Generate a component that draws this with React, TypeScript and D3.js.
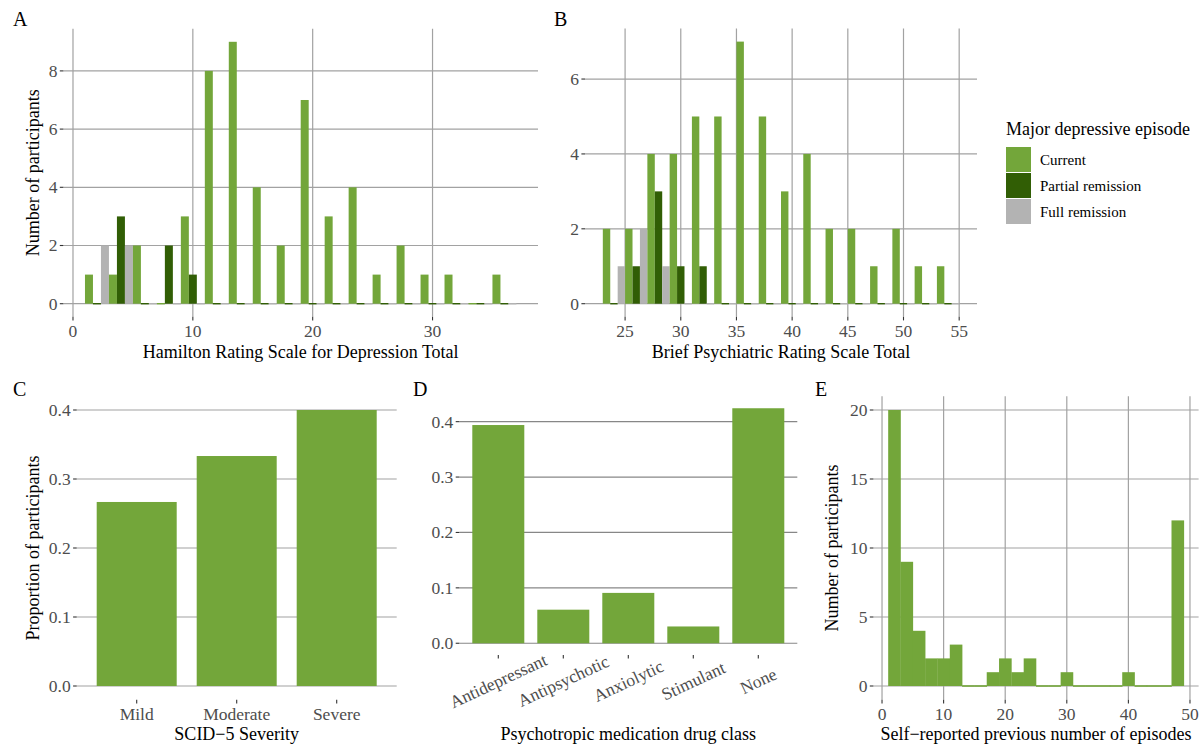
import React from "react";
import * as d3 from "d3";

// ---------- DATA ----------
const groups = ["Current", "Partial remission", "Full remission"];
const groupColors = ["#73a63a", "#315e05", "#b3b3b3"];

// Panel A: Hamilton Rating Scale for Depression Total (bin centers, width 2)
const hamCenters = [2, 4, 6, 8, 10, 12, 14, 16, 18, 20, 22, 24, 26, 28, 30, 32, 34, 36];
const hamCurrent = [1, 1, 2, 0, 3, 8, 9, 4, 2, 7, 3, 4, 1, 2, 1, 1, 0, 1];
const hamPartial = [0, 3, 0, 2, 1, 0, 0, 0, 0, 0, 0, 0, 0, 0, 0, 0, 0, 0];
const hamFull = [2, 2, 0, 0, 0, 0, 0, 0, 0, 0, 0, 0, 0, 0, 0, 0, 0, 0];
const hamXTicks = [0, 10, 20, 30];
const hamYTicks = [0, 2, 4, 6, 8];

// Panel B: Brief Psychiatric Rating Scale Total
const bprsCenters = [24, 26, 28, 30, 32, 34, 36, 38, 40, 42, 44, 46, 48, 50, 52, 54];
const bprsCurrent = [2, 2, 4, 4, 5, 5, 7, 5, 3, 4, 2, 2, 1, 2, 1, 1];
const bprsPartial = [0, 1, 3, 1, 1, 0, 0, 0, 0, 0, 0, 0, 0, 0, 0, 0];
const bprsFull = [1, 2, 1, 0, 0, 0, 0, 0, 0, 0, 0, 0, 0, 0, 0, 0];
const bprsXTicks = [25, 30, 35, 40, 45, 50, 55];
const bprsYTicks = [0, 2, 4, 6];

// Panel C: SCID-5 Severity
const severity = ["Mild", "Moderate", "Severe"];
const severityProp = [0.2667, 0.3333, 0.4];
const propTicks = [0, 0.1, 0.2, 0.3, 0.4];

// Panel D: Psychotropic medication drug class
const drugClass = ["Antidepressant", "Antipsychotic", "Anxiolytic", "Stimulant", "None"];
const drugProp = [0.3939, 0.0606, 0.0909, 0.0303, 0.4242];

// Panel E: Self-reported previous number of episodes
const epiCenters = [2, 4, 6, 8, 10, 12, 14, 16, 18, 20, 22, 24, 26, 28, 30, 32, 34, 36, 38, 40, 42, 44, 46, 48];
const epiCount = [20, 9, 4, 2, 2, 3, 0, 0, 1, 2, 1, 2, 0, 0, 1, 0, 0, 0, 0, 1, 0, 0, 0, 12];
const epiXTicks = [0, 10, 20, 30, 40, 50];
const epiYTicks = [0, 5, 10, 15, 20];

// ---------- STYLE ----------
const FONT = "'Liberation Serif', 'Times New Roman', serif";
const GRID = "#a2a2a2";
const TICK = "#333333";
const TICKTXT = "#4d4d4d";
const TICKSIZE = 17.5;
const TITLESIZE = 18;

type Frame = { x0: number; x1: number; y0: number; y1: number };

function YAxis({ f, y, ticks, fmt, gridColor = GRID }: any) {
  return (
    <g>
      {ticks.map((t: number) => (
        <g key={"y" + t}>
          <line x1={f.x0} x2={f.x1} y1={y(t)} y2={y(t)} stroke={gridColor} strokeWidth={1.2} />
          <line x1={f.x0 - 3.6} x2={f.x0} y1={y(t)} y2={y(t)} stroke={TICK} strokeWidth={1.1} />
          <text x={f.x0 - 6} y={y(t)} dy="0.34em" textAnchor="end" fontSize={TICKSIZE} fill={TICKTXT} fontFamily={FONT}>
            {fmt ? fmt(t) : t}
          </text>
        </g>
      ))}
    </g>
  );
}

function XGrid({ f, x, ticks }: any) {
  return (
    <g>
      {ticks.map((t: number) => (
        <line key={"xg" + t} x1={x(t)} x2={x(t)} y1={f.y0} y2={f.y1} stroke={GRID} strokeWidth={1.2} />
      ))}
    </g>
  );
}

function XTicks({ f, x, ticks, labels, labelY }: any) {
  return (
    <g>
      {ticks.map((t: number, i: number) => (
        <g key={"xt" + i}>
          <line x1={x(t)} x2={x(t)} y1={f.y1} y2={f.y1 + 3.6} stroke={TICK} strokeWidth={1.1} />
          {labels ? (
            <text x={x(t)} y={labelY} textAnchor="middle" fontSize={TICKSIZE} fill={TICKTXT} fontFamily={FONT}>
              {labels[i]}
            </text>
          ) : null}
        </g>
      ))}
    </g>
  );
}

function DodgeBars({ x, y, centers, series, binW }: any) {
  const sub = binW / series.length;
  const out: any[] = [];
  centers.forEach((c: number, i: number) => {
    series.forEach((vals: number[], g: number) => {
      const left = x(c - binW / 2 + g * sub);
      const right = x(c - binW / 2 + (g + 1) * sub);
      const v = vals[i];
      const top = v > 0 ? y(v) : y(0) - 0.7;
      const bot = v > 0 ? y(0) : y(0) + 0.7;
      out.push(<rect key={i + "-" + g} x={left} width={right - left} y={top} height={bot - top} fill={groupColors[g]} />);
    });
  });
  return <g>{out}</g>;
}

function Tag({ x, y, label }: any) {
  return (
    <text x={x} y={y} fontSize={20} fontFamily={FONT} fill="#000">
      {label}
    </text>
  );
}

function Title({ x, y, label, rotate }: any) {
  return (
    <text
      x={x}
      y={y}
      textAnchor="middle"
      fontSize={TITLESIZE}
      fontFamily={FONT}
      fill="#000"
      transform={rotate ? `rotate(-90 ${x} ${y})` : undefined}
    >
      {label}
    </text>
  );
}

export default function App() {
  // Panel A
  const fA: Frame = { x0: 63.4, x1: 538, y0: 28.7, y1: 316.8 };
  const xA = d3.scaleLinear().domain([-0.8, 38.8]).range([fA.x0, fA.x1]);
  const yA = d3.scaleLinear().domain([-0.45, 9.45]).range([fA.y1, fA.y0]);

  // Panel B
  const fB: Frame = { x0: 585, x1: 977, y0: 28.5, y1: 316.8 };
  const xB = d3.scaleLinear().domain([21.4, 56.6]).range([fB.x0, fB.x1]);
  const yB = d3.scaleLinear().domain([-0.35, 7.35]).range([fB.y1, fB.y0]);

  // Panel C
  const fC: Frame = { x0: 76.7, x1: 396.7, y0: 396.2, y1: 699.8 };
  const xC = d3.scaleLinear().domain([0.4, severity.length + 0.6]).range([fC.x0, fC.x1]);
  const yC = d3.scaleLinear().domain([-0.02, 0.42]).range([fC.y1, fC.y0]);

  // Panel D
  const fD: Frame = { x0: 459.3, x1: 797.3, y0: 396.5, y1: 655 };
  const xD = d3.scaleLinear().domain([0.4, drugClass.length + 0.6]).range([fD.x0, fD.x1]);
  const dMax = d3.max(drugProp) as number;
  const yD = d3.scaleLinear().domain([-0.05 * dMax, dMax * 1.05]).range([fD.y1, fD.y0]);

  // Panel E
  const fE: Frame = { x0: 873.4, x1: 1198.6, y0: 396.2, y1: 699.8 };
  const xE = d3.scaleLinear().domain([-1.4, 51.4]).range([fE.x0, fE.x1]);
  const yE = d3.scaleLinear().domain([-1, 21]).range([fE.y1, fE.y0]);

  const fmt1 = d3.format(".1f");

  return (
    <svg
      width={1200}
      height={744}
      style={{ position: "absolute", left: 0, top: 0, background: "#fff" }}
      fontFamily={FONT}
    >
      <rect x={0} y={0} width={1200} height={744} fill="#fff" />

      {/* ---------- Panel A ---------- */}
      <Tag x={13} y={26} label="A" />
      <YAxis f={fA} y={yA} ticks={hamYTicks} />
      <XGrid f={fA} x={xA} ticks={hamXTicks} />
      <DodgeBars x={xA} y={yA} centers={hamCenters} series={[hamCurrent, hamPartial, hamFull]} binW={2} />
      <XTicks f={fA} x={xA} ticks={hamXTicks} labels={hamXTicks.map(String)} labelY={337} />
      <Title x={(fA.x0 + fA.x1) / 2} y={357.5} label="Hamilton Rating Scale for Depression Total" />
      <Title x={39} y={(fA.y0 + fA.y1) / 2} label="Number of participants" rotate />

      {/* ---------- Panel B ---------- */}
      <Tag x={554} y={26} label="B" />
      <YAxis f={fB} y={yB} ticks={bprsYTicks} />
      <XGrid f={fB} x={xB} ticks={bprsXTicks} />
      <DodgeBars x={xB} y={yB} centers={bprsCenters} series={[bprsCurrent, bprsPartial, bprsFull]} binW={2} />
      <XTicks f={fB} x={xB} ticks={bprsXTicks} labels={bprsXTicks.map(String)} labelY={337} />
      <Title x={(fB.x0 + fB.x1) / 2} y={357.5} label="Brief Psychiatric Rating Scale Total" />

      {/* ---------- Legend ---------- */}
      <text x={1006} y={135} fontSize={18} fontFamily={FONT} fill="#000">
        Major depressive episode
      </text>
      {groups.map((g, i) => (
        <g key={g}>
          <rect x={1006} y={147 + i * 26} width={25} height={25} fill={groupColors[i]} />
          <text x={1040} y={147 + i * 26 + 12.5} dy="0.34em" fontSize={15} fontFamily={FONT} fill="#000">
            {g}
          </text>
        </g>
      ))}

      {/* ---------- Panel C ---------- */}
      <Tag x={13} y={396} label="C" />
      <YAxis f={fC} y={yC} ticks={propTicks} fmt={fmt1} />
      {severity.map((s, i) => (
        <rect
          key={s}
          x={xC(i + 1 - 0.4)}
          width={xC(i + 1 + 0.4) - xC(i + 1 - 0.4)}
          y={yC(severityProp[i])}
          height={yC(0) - yC(severityProp[i])}
          fill={groupColors[0]}
        />
      ))}
      <XTicks f={fC} x={(i: number) => xC(i)} ticks={severity.map((_, i) => i + 1)} labels={severity} labelY={720} />
      <Title x={(fC.x0 + fC.x1) / 2} y={739.5} label="SCID−5 Severity" />
      <Title x={39} y={(fC.y0 + fC.y1) / 2} label="Proportion of participants" rotate />

      {/* ---------- Panel D ---------- */}
      <Tag x={413} y={396} label="D" />
      <YAxis f={fD} y={yD} ticks={propTicks} fmt={fmt1} gridColor="#878787" />
      {drugClass.map((s, i) => (
        <rect
          key={s}
          x={xD(i + 1 - 0.4)}
          width={xD(i + 1 + 0.4) - xD(i + 1 - 0.4)}
          y={yD(drugProp[i])}
          height={yD(0) - yD(drugProp[i])}
          fill={groupColors[0]}
        />
      ))}
      <XTicks f={fD} x={(i: number) => xD(i)} ticks={drugClass.map((_, i) => i + 1)} />
      {drugClass.map((s, i) => (
        <text
          key={"dl" + s}
          x={xD(i + 1)}
          y={681}
          textAnchor="middle"
          dy="0.34em"
          fontSize={TICKSIZE}
          fill={TICKTXT}
          fontFamily={FONT}
          transform={`rotate(-25 ${xD(i + 1)} 681)`}
        >
          {s}
        </text>
      ))}
      <Title x={(fD.x0 + fD.x1) / 2} y={739.5} label="Psychotropic medication drug class" />

      {/* ---------- Panel E ---------- */}
      <Tag x={815} y={396} label="E" />
      <YAxis f={fE} y={yE} ticks={epiYTicks} />
      <XGrid f={fE} x={xE} ticks={epiXTicks} />
      {epiCenters.map((c, i) => {
        const v = epiCount[i];
        const top = v > 0 ? yE(v) : yE(0) - 0.8;
        const bot = v > 0 ? yE(0) : yE(0) + 0.8;
        return <rect key={"e" + c} x={xE(c - 1)} width={xE(c + 1) - xE(c - 1) + 0.3} y={top} height={bot - top} fill={groupColors[0]} />;
      })}
      <XTicks f={fE} x={xE} ticks={epiXTicks} labels={epiXTicks.map(String)} labelY={720} />
      <Title x={(fE.x0 + fE.x1) / 2} y={739.5} label="Self−reported previous number of episodes" />
      <Title x={838} y={(fE.y0 + fE.y1) / 2} label="Number of participants" rotate />
    </svg>
  );
}
